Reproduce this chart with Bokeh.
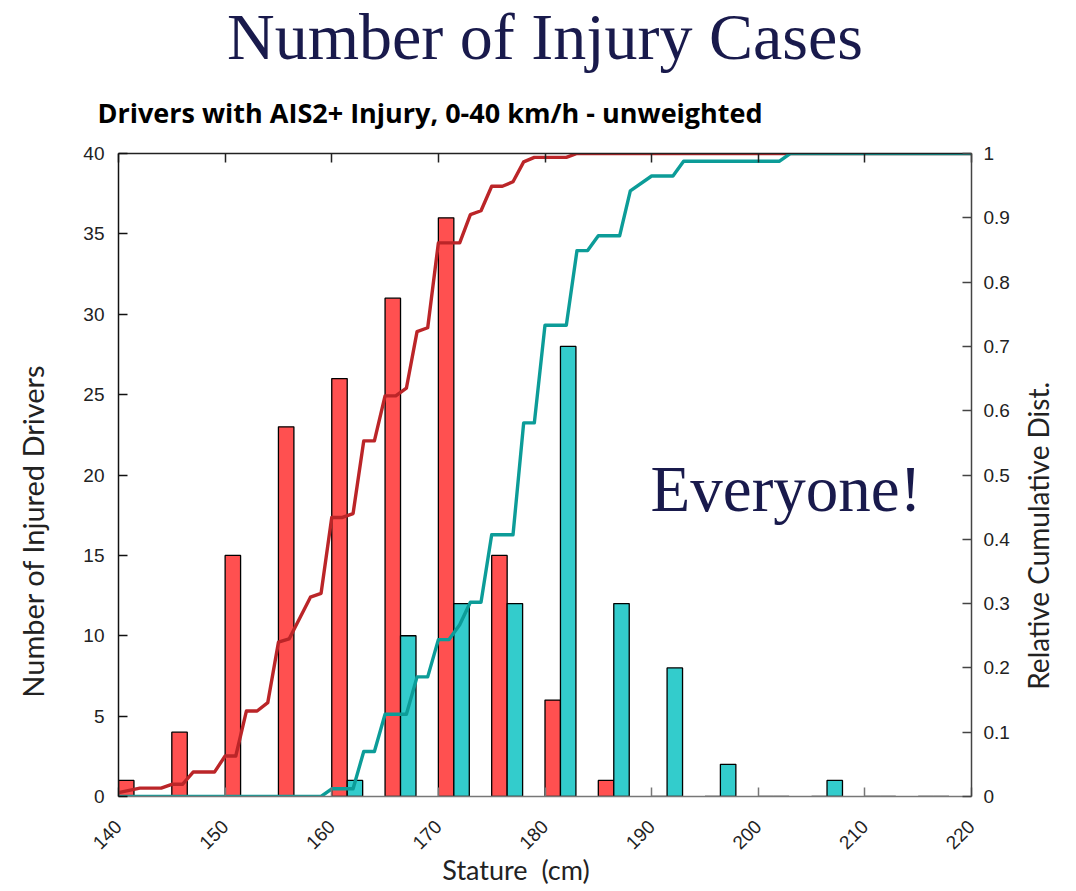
import math
import json
from bokeh.plotting import figure
from bokeh.models import (Range1d, LinearAxis, FixedTicker, CustomJSTickFormatter, Title)
from bokeh.embed import file_html
from bokeh.resources import INLINE
from bokeh.core.properties import value

# ---------------- data ----------------
bins = [140, 145, 150, 155, 160, 165, 170, 175, 180, 185, 190, 195, 200, 205, 210, 215]
red_counts = [1, 4, 15, 23, 26, 31, 36, 15, 6, 1, 0, 0, 0, 0, 0, 0]
cyan_counts = [0, 0, 0, 0, 1, 10, 12, 12, 28, 12, 8, 2, 0, 1, 0, 0]

red_cum_x = [140, 142, 144, 145, 146, 147, 149, 150, 151, 152, 153, 154, 155, 156, 158, 159,
             160, 161, 162, 163, 164, 165, 166, 167, 168, 169, 170, 172, 173, 174, 175, 176,
             177, 178, 179, 182, 183, 220]
red_cum_y = [0.006, 0.013, 0.013, 0.019, 0.019, 0.038, 0.038, 0.063, 0.063, 0.133, 0.133, 0.146,
             0.24, 0.245, 0.31, 0.316, 0.434, 0.434, 0.44, 0.553, 0.553, 0.623, 0.623, 0.635,
             0.723, 0.729, 0.861, 0.861, 0.905, 0.911, 0.949, 0.949, 0.956, 0.987, 0.994, 0.994,
             1.0, 1.0]

cyan_cum_x = [140, 159, 160, 162, 163, 164, 165, 167, 168, 169, 170, 171, 172, 173, 174, 175,
              177, 178, 179, 180, 182, 183, 184, 185, 187, 188, 190, 192, 193, 202, 203, 220]
cyan_cum_y = [0, 0, 0.012, 0.012, 0.07, 0.07, 0.128, 0.128, 0.186, 0.186, 0.244, 0.244, 0.267,
              0.302, 0.302, 0.407, 0.407, 0.581, 0.581, 0.733, 0.733, 0.849, 0.849, 0.872, 0.872,
              0.942, 0.965, 0.965, 0.988, 0.988, 1.0, 1.0]

x_ticks = [140, 150, 160, 170, 180, 190, 200, 210, 220]
y_ticks = [0, 5, 10, 15, 20, 25, 30, 35, 40]
cum_ticks = [0, 0.1, 0.2, 0.3, 0.4, 0.5, 0.6, 0.7, 0.8, 0.9, 1]

title_text = "Number of Injury Cases"
subtitle_text = "Drivers with AIS2+ Injury, 0-40 km/h - unweighted"
note_text = "Everyone!"
x_label = "Stature\u00a0\u00a0(cm)"
y_label = "Number of Injured Drivers"
y2_label = "Relative Cumulative Dist."

# ---------------- style ----------------
NAVY = "#191A4C"
RED_BAR = "#FF5050"
CYAN_BAR = "#33CCCC"
RED_LINE = "#BB2528"
CYAN_LINE = "#0C9C98"
SANS = "Lato"
TICK_FONT = "Liberation Sans"
BAR_W = 1.45

W, H = 1075, 888
ML, MT = 118, 153
MR = W - 972
MB = H - 797

p = figure(width=W, height=H, x_range=Range1d(140, 220), y_range=Range1d(0, 40),
           output_backend="svg", toolbar_location=None,
           min_border_left=ML, min_border_right=MR, min_border_top=MT, min_border_bottom=MB,
           x_axis_location=None, y_axis_location=None)
p.grid.visible = False
p.outline_line_color = None
p.extra_y_ranges = {"cum": Range1d(0, 1)}


def style_axis(ax, color):
    ax.major_tick_in = 9
    ax.major_tick_out = 0
    ax.minor_tick_in = 0
    ax.minor_tick_out = 0
    ax.axis_line_color = color
    ax.axis_line_width = 1.5
    ax.major_tick_line_color = color
    ax.major_tick_line_width = 1.5
    ax.major_label_text_font = TICK_FONT
    ax.major_label_text_font_size = "19px"
    ax.major_label_text_color = "#222222"


def text_axis(text, pos, standoff, orientation, font_size, **kw):
    """an invisible axis whose single tick label carries an axis title"""
    ax = LinearAxis(ticker=FixedTicker(ticks=[pos]),
                    formatter=CustomJSTickFormatter(code="return " + json.dumps(text) + ";"),
                    **kw)
    ax.axis_line_color = None
    ax.major_tick_line_color = None
    ax.minor_tick_line_color = None
    ax.major_tick_in = 0
    ax.major_tick_out = 0
    ax.minor_tick_in = 0
    ax.minor_tick_out = 0
    ax.major_label_standoff = standoff
    ax.major_label_orientation = orientation
    ax.major_label_text_font = SANS
    ax.major_label_text_font_size = font_size
    ax.major_label_text_color = "#222222"
    return ax


# left axis + its title
left = LinearAxis(ticker=FixedTicker(ticks=y_ticks))
style_axis(left, "#111111")
left.major_label_standoff = 14
p.add_layout(left, "left")
p.add_layout(text_axis(y_label, 16.52, 30, "parallel", "29px"), "left")

# right axis + its title
right = LinearAxis(y_range_name="cum", ticker=FixedTicker(ticks=cum_ticks),
                   formatter=CustomJSTickFormatter(code="return String(Math.round(tick*10)/10);"))
style_axis(right, "#444444")
right.major_label_standoff = 12
p.add_layout(right, "right")
p.add_layout(text_axis(y2_label, 0.166, 26, math.pi / 2, "28px", y_range_name="cum"), "right")

# top axis (ticks only)
top = LinearAxis(ticker=FixedTicker(ticks=x_ticks),
                 formatter=CustomJSTickFormatter(code="return '';"))
style_axis(top, "#222222")
top.major_label_standoff = 0
p.add_layout(top, "above")

# bottom axis + its title
bottom = LinearAxis(ticker=FixedTicker(ticks=x_ticks))
style_axis(bottom, "#777777")
bottom.major_label_orientation = math.pi / 4
bottom.major_label_standoff = 27
p.add_layout(bottom, "below")
p.add_layout(text_axis(x_label, 177.28, -6, "horizontal", "27px"), "below")

# titles above the plot
main_title = Title(text=title_text, align="center", offset=-1.5, text_font="Liberation Serif",
                   text_font_style="normal", text_font_size="66px", text_color=NAVY,
                   standoff=0)
sub_standoff = 38
try:
    main_title.standoff = -7
    sub_standoff = 45
except Exception:
    pass
p.add_layout(Title(text=subtitle_text, align="left", offset=-21, text_font="Open Sans",
                   text_font_style="bold", text_font_size="27px", text_color="black",
                   standoff=sub_standoff), "above")
p.add_layout(main_title, "above")

# bars
red_x = [b + BAR_W / 2 for b in bins]
cyan_x = [b + BAR_W * 1.5 for b in bins]
p.vbar(x=red_x, top=red_counts, bottom=0, width=BAR_W, fill_color=RED_BAR,
       line_color="black", line_width=1.3)
p.vbar(x=cyan_x, top=cyan_counts, bottom=0, width=BAR_W, fill_color=CYAN_BAR,
       line_color="black", line_width=1.3)

# cumulative distributions
p.line(red_cum_x, red_cum_y, y_range_name="cum", line_color=RED_LINE, line_width=3.4,
       line_join="round")
p.line(cyan_cum_x, cyan_cum_y, y_range_name="cum", line_color=CYAN_LINE, line_width=3.4,
       line_join="round")

p.text(x=[202.6], y=[19.15], text=[note_text], text_font=value("Liberation Serif"),
       text_font_size="65px", text_align="center", text_baseline="alphabetic",
       text_color=NAVY)

open("out.html", "w").write(file_html(p, INLINE))
